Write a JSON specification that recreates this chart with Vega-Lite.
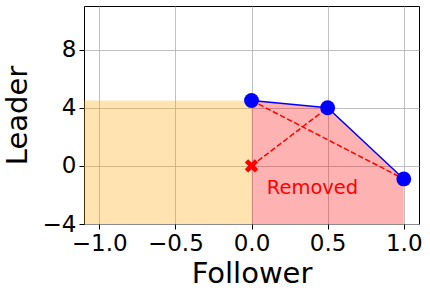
{
  "$schema": "https://vega.github.io/schema/vega-lite/v6.json",
  "width": 335,
  "height": 218,
  "autosize": "none",
  "padding": {"left": 84, "top": 6, "right": 11, "bottom": 71},
  "background": "white",
  "config": {
    "font": "DejaVu Sans",
    "view": {"stroke": "black", "strokeWidth": 1},
    "axis": {
      "grid": true,
      "gridColor": "#b0b0b0",
      "gridWidth": 0.8,
      "domain": false,
      "tickColor": "black",
      "tickSize": 5,
      "tickWidth": 1,
      "labelColor": "black",
      "labelFont": "DejaVu Sans",
      "labelFontSize": 23,
      "titleFont": "DejaVu Sans",
      "titleFontSize": 29,
      "titleFontWeight": "normal",
      "titleColor": "black",
      "labelFlush": false
    }
  },
  "datasets": {
    "region": [{"x0": -1.1, "x1": 0, "y0": -4, "y1": 4.5}],
    "front": [
      {"follower": 0, "leader": 4.5},
      {"follower": 0.5, "leader": 4.0},
      {"follower": 1.0, "leader": -0.9}
    ],
    "dashes": [
      {"xa": 0, "ya": 0, "xb": 0.5, "yb": 4.0},
      {"xa": 0, "ya": 4.5, "xb": 1.0, "yb": -0.9}
    ],
    "removed": [{"follower": 0, "leader": 0}],
    "label": [{"follower": 0.1, "leader": -1.95, "text": "Removed"}]
  },
  "layer": [
    {
      "data": {"name": "region"},
      "mark": {"type": "rect", "color": "orange", "opacity": 0.3},
      "encoding": {
        "x": {"field": "x0", "type": "quantitative", "scale": {"domain": [-1.1, 1.1], "nice": false, "zero": false},
          "axis": {"values": [-1, -0.5, 0, 0.5, 1], "format": ".1f", "title": "Follower", "labelPadding": 3, "titlePadding": 4}},
        "x2": {"field": "x1"},
        "y": {"field": "y0", "type": "quantitative", "scale": {"domain": [-4, 11], "nice": false, "zero": false},
          "axis": {"values": [-4, 0, 4, 8], "title": "Leader", "labelPadding": 3, "titlePadding": 10}},
        "y2": {"field": "y1"}
      }
    },
    {
      "data": {"name": "front"},
      "mark": {"type": "area", "color": "red", "opacity": 0.3},
      "encoding": {
        "x": {"field": "follower", "type": "quantitative"},
        "y": {"field": "leader", "type": "quantitative"},
        "y2": {"datum": -4}
      }
    },
    {
      "data": {"name": "dashes"},
      "mark": {"type": "rule", "color": "red", "strokeWidth": 1.5, "strokeDash": [5.5, 2.5]},
      "encoding": {
        "x": {"field": "xa", "type": "quantitative"},
        "y": {"field": "ya", "type": "quantitative"},
        "x2": {"field": "xb"},
        "y2": {"field": "yb"}
      }
    },
    {
      "data": {"name": "front"},
      "mark": {"type": "line", "color": "blue", "strokeWidth": 1.5},
      "encoding": {
        "x": {"field": "follower", "type": "quantitative"},
        "y": {"field": "leader", "type": "quantitative"}
      }
    },
    {
      "data": {"name": "front"},
      "mark": {"type": "point", "filled": true, "color": "blue", "opacity": 1, "size": 220, "shape": "circle"},
      "encoding": {
        "x": {"field": "follower", "type": "quantitative"},
        "y": {"field": "leader", "type": "quantitative"}
      }
    },
    {
      "data": {"name": "removed"},
      "mark": {"type": "point", "filled": true, "color": "red", "opacity": 1, "size": 180,
        "shape": "M0.5,0L1,0.5L0.5,1L0,0.5L-0.5,1L-1,0.5L-0.5,0L-1,-0.5L-0.5,-1L0,-0.5L0.5,-1L1,-0.5Z"},
      "encoding": {
        "x": {"field": "follower", "type": "quantitative"},
        "y": {"field": "leader", "type": "quantitative"}
      }
    },
    {
      "data": {"name": "label"},
      "mark": {"type": "text", "color": "red", "fontSize": 19.5, "align": "left", "baseline": "alphabetic", "font": "DejaVu Sans"},
      "encoding": {
        "x": {"field": "follower", "type": "quantitative"},
        "y": {"field": "leader", "type": "quantitative"},
        "text": {"field": "text"}
      }
    }
  ]
}
